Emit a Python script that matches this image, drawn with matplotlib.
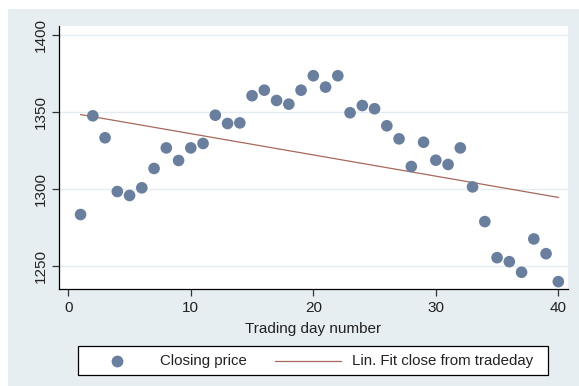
import matplotlib
matplotlib.use("Agg")
import matplotlib.pyplot as plt
import numpy as np
from matplotlib.patches import Rectangle
from matplotlib.lines import Line2D

plt.rcParams['font.family'] = ['Liberation Sans', 'DejaVu Sans']

tradeday = list(range(1, 41))
close = [1283.3, 1347.6, 1333.3, 1298.3, 1295.7, 1300.7, 1313.3, 1326.7, 1318.5, 1326.7,
         1329.6, 1348.0, 1342.6, 1343.0, 1360.7, 1364.3, 1357.6, 1355.2, 1364.3, 1373.7,
         1366.3, 1373.7, 1349.6, 1354.3, 1352.2, 1341.1, 1332.6, 1314.6, 1330.4, 1318.7,
         1315.9, 1326.7, 1301.3, 1278.7, 1255.2, 1252.6, 1245.7, 1267.4, 1257.8, 1239.6]
xticks = [0, 10, 20, 30, 40]
yticks = [1250, 1300, 1350, 1400]
legend_labels = ['Closing price', 'Lin. Fit close from tradeday']

W, H = 579, 386
fig = plt.figure(figsize=(W/100, H/100), dpi=100)
fig.patch.set_facecolor('white')
bg = '#E7EEF2'
fig.patches.append(Rectangle((8/W, 0), 1 - 8/W, 1 - 9/H, transform=fig.transFigure,
                             facecolor=bg, edgecolor='none', zorder=-10))

left, right, top, bottom = 59, 568, 26, 289
ax = fig.add_axes([left/W, 1 - bottom/H, (right-left)/W, (bottom-top)/H])
ax.set_facecolor('white')

x = np.array(tradeday, dtype=float)
y = np.array(close, dtype=float)
b, a = np.polyfit(x, y, 1)

mcol = '#6A7F9E'
lcol = '#A8685C'
ax.scatter(x, y, s=70, color=mcol, edgecolors='none', zorder=3)
ax.plot(x, a + b*x, color=lcol, lw=0.9, zorder=2)

ax.set_xlim(-0.76, 40.79)
ax.set_ylim(1234.8, 1406.1)
ax.set_xticks(xticks)
ax.set_yticks(yticks)
ax.grid(axis='y', color='#E3ECF0', lw=1.0, zorder=0)
ax.set_axisbelow(True)
for s in ['top', 'right']:
    ax.spines[s].set_visible(False)
for s in ['left', 'bottom']:
    ax.spines[s].set_color('black')
    ax.spines[s].set_linewidth(0.9)
ax.tick_params(axis='both', direction='out', length=5, width=0.9, color='#333333',
               labelsize=11, labelcolor='#222222')
ax.tick_params(axis='x', pad=4)
ax.tick_params(axis='y', pad=3)
for lab in ax.get_yticklabels():
    lab.set_rotation(90)
    lab.set_va('center')
ax.set_xlabel('Trading day number', fontsize=11, color='#222222', labelpad=5)

# legend box drawn in figure pixel coordinates
def fx(px):
    return px / W

def fy(py):
    return 1 - py / H

lx0, lx1, ly0, ly1 = 78.3, 548.3, 346, 375
fig.patches.append(Rectangle((fx(lx0), fy(ly1)), fx(lx1) - fx(lx0), fy(ly0) - fy(ly1),
                             transform=fig.transFigure, facecolor='white',
                             edgecolor='black', lw=0.9, zorder=5))
yc = fy((ly0 + ly1) / 2)
fig.add_artist(Line2D([fx(116.7)], [yc], ls='none', marker='o', ms=8.5, color=mcol,
                      mec='none', transform=fig.transFigure, zorder=6))
fig.text(fx(160), yc, legend_labels[0], fontsize=10.8, color='#222222',
         ha='left', va='center', zorder=6)
fig.add_artist(Line2D([fx(274.5), fx(340.7)], [yc, yc], color=lcol, lw=0.9,
                      transform=fig.transFigure, zorder=6))
fig.text(fx(351.7), yc, legend_labels[1], fontsize=10.8, color='#222222',
         ha='left', va='center', zorder=6)

fig.savefig('out.png', dpi=100, facecolor=fig.get_facecolor())
